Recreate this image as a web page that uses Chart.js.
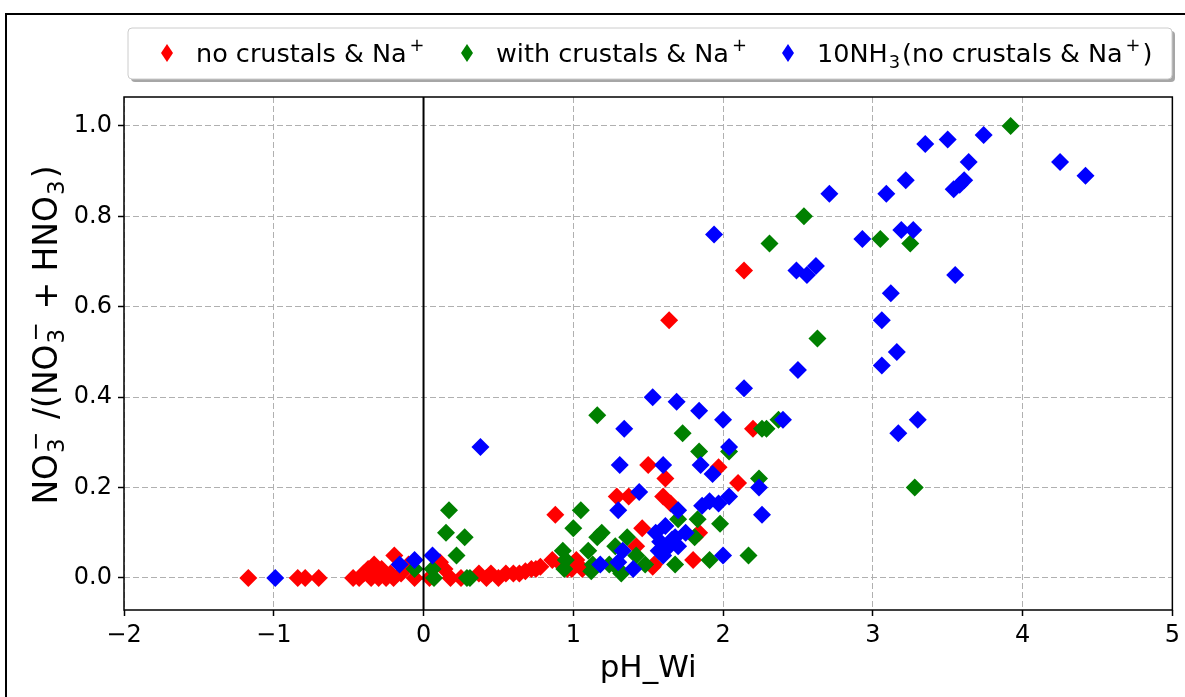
<!DOCTYPE html>
<html>
<head>
<meta charset="utf-8">
<script src="https://cdn.jsdelivr.net/npm/chart.js@4/dist/chart.umd.min.js"></script>
<style>
  html, body { margin: 0; padding: 0; background: #ffffff; }
  #wrap { width: 1185px; height: 697px; }
</style>
</head>
<body>
<div id="wrap"><canvas id="scatterChart" width="1185" height="697"></canvas></div>
<script>
// pH_Wi (x) and NO3-/(NO3- + HNO3) (y)
const redX = [-1.17, -0.84, -0.79, -0.70, -0.47, -0.43, -0.40, -0.37, -0.35, -0.33, -0.30, -0.28, -0.25, -0.22, -0.20,
  -0.33, -0.195, -0.15, -0.10, -0.06, 0.04, 0.11, 0.14, 0.18, 0.25,
  0.37, 0.42, 0.45, 0.50, 0.55, 0.60, 0.64, 0.68, 0.72, 0.75, 0.78,
  0.86, 0.88, 0.92, 0.96, 0.99, 1.02, 1.06,
  1.29, 1.37, 1.42, 1.46, 1.50, 1.53, 1.54, 1.60, 1.615, 1.65, 1.64, 1.80, 1.84, 1.97, 2.10, 2.14, 2.20];
const redY = [0.0, 0.0, 0.0, 0.0, 0.0, 0.0, 0.01, 0.02, 0.0, 0.01, 0.0, 0.02, 0.0, 0.01, 0.0,
  0.03, 0.05, 0.01, 0.03, 0.0, 0.0, 0.035, 0.02, 0.0, 0.0,
  0.01, 0.0, 0.01, 0.0, 0.01, 0.01, 0.01, 0.015, 0.02, 0.02, 0.025,
  0.04, 0.14, 0.03, 0.02, 0.02, 0.04, 0.02,
  0.18, 0.18, 0.07, 0.11, 0.25, 0.025, 0.03, 0.18, 0.22, 0.165, 0.57, 0.04, 0.10, 0.245, 0.21, 0.68, 0.33];

const greenX = [-0.06, 0.06, 0.07, 0.15, 0.17, 0.22, 0.275, 0.29, 0.31,
  0.93, 0.94, 0.95, 1.0, 1.05, 1.10, 1.12, 1.13, 1.16, 1.16, 1.19, 1.24, 1.28, 1.30, 1.32, 1.36, 1.42, 1.48,
  1.68, 1.70, 1.73, 1.81, 1.83, 1.84, 1.91, 1.98, 2.04, 2.17, 2.24, 2.26, 2.29, 2.37,
  2.31, 2.54, 2.63, 3.05, 3.25, 3.28, 3.92];
const greenY = [0.02, 0.02, 0.0, 0.10, 0.15, 0.05, 0.09, 0.0, 0.0,
  0.06, 0.02, 0.04, 0.11, 0.15, 0.06, 0.015, 0.03, 0.09, 0.36, 0.10, 0.03, 0.07, 0.02, 0.01, 0.09, 0.05, 0.03,
  0.03, 0.13, 0.32, 0.09, 0.13, 0.28, 0.04, 0.12, 0.28, 0.05, 0.22, 0.33, 0.33, 0.35,
  0.74, 0.80, 0.53, 0.75, 0.74, 0.20, 1.0];

const blueX = [-0.99, -0.16, -0.06, 0.06, 0.38,
  1.18, 1.30, 1.30, 1.31, 1.33, 1.34, 1.40, 1.44, 1.53, 1.55, 1.57, 1.58, 1.60, 1.60, 1.615, 1.64, 1.66, 1.68,
  1.69, 1.70, 1.70, 1.75, 1.84, 1.85, 1.86, 1.91, 1.93, 1.94, 1.97, 2.0, 2.0, 2.04, 2.04, 2.14, 2.24, 2.26, 2.40,
  2.49, 2.50, 2.56, 2.62, 2.71, 2.93, 3.06, 3.06, 3.09, 3.12, 3.16, 3.17, 3.19, 3.22, 3.27, 3.30,
  3.35, 3.50, 3.54, 3.55, 3.58, 3.61, 3.64, 3.74, 4.25, 4.42];
const blueY = [0.0, 0.03, 0.04, 0.05, 0.29,
  0.03, 0.035, 0.15, 0.25, 0.06, 0.33, 0.02, 0.19, 0.40, 0.10, 0.06, 0.08, 0.25, 0.05, 0.115, 0.07, 0.085, 0.09,
  0.39, 0.07, 0.15, 0.10, 0.37, 0.25, 0.16, 0.17, 0.23, 0.76, 0.165, 0.35, 0.05, 0.18, 0.29, 0.42, 0.20, 0.14, 0.35,
  0.68, 0.46, 0.67, 0.69, 0.85, 0.75, 0.57, 0.47, 0.85, 0.63, 0.50, 0.32, 0.77, 0.88, 0.77, 0.35,
  0.96, 0.97, 0.86, 0.67, 0.87, 0.88, 0.92, 0.98, 0.92, 0.89];

// labels as [text, subscript, superscript] pieces
const seriesLabels = [
  [["no crustals & Na", "", "+"]],
  [["with crustals & Na", "", "+"]],
  [["10NH", "3", ""], ["(no crustals & Na", "", "+"], [")", "", ""]],
];
const yTitle = [["NO", "3", "\u2212"], [" /(NO", "3", "\u2212"], [" + HNO", "3", ""], [")", "", ""]];
const xTitle = "pH_Wi";
const phTicks = [-2, -1, 0, 1, 2, 3, 4, 5];
const ratioTicks = [0.0, 0.2, 0.4, 0.6, 0.8, 1.0];

function toPoints(xs, ys) {
  return xs.map((x, i) => ({ x: x, y: ys[i] }));
}

function plainLabel(parts) {
  return parts.map((p) => p[0] + p[1] + p[2]).join("");
}

const FONT = "'DejaVu Sans', sans-serif";

// text with sub/superscripts stacked like mathtext; returns width
function richText(ctx, parts, x, y, size, draw) {
  let cx = x;
  const s = size * 0.7;
  parts.forEach(([t, sub, sup]) => {
    ctx.font = size + "px " + FONT;
    if (draw) ctx.fillText(t, cx, y);
    cx += ctx.measureText(t).width;
    if (sub || sup) {
      ctx.font = s + "px " + FONT;
      let w = 0;
      if (sub) {
        if (draw) ctx.fillText(sub, cx + 1, y + size * 0.22);
        w = ctx.measureText(sub).width + 1;
      }
      if (sup) {
        if (draw) ctx.fillText(sup, cx + 3, y - size * 0.42);
        w = Math.max(w, ctx.measureText(sup).width + 3);
      }
      cx += w + 2;
    }
  });
  return cx - x;
}

// figure frame, axes box, the x = 0 line, y title and the boxed legend
const framePlugin = {
  id: "framePlugin",
  afterDatasetsDraw(chart) {
    const ctx = chart.ctx;
    const area = chart.chartArea;
    const x0 = chart.scales.x.getPixelForValue(0);
    ctx.save();
    ctx.strokeStyle = "#000000";
    ctx.lineWidth = 2;
    ctx.beginPath();
    ctx.moveTo(x0, area.top);
    ctx.lineTo(x0, area.bottom);
    ctx.stroke();
    ctx.lineWidth = 1.5;
    ctx.strokeRect(area.left, area.top, area.right - area.left, area.bottom - area.top);
    ctx.restore();
  },
  afterDraw(chart) {
    const ctx = chart.ctx;
    ctx.save();
    // outer figure edge
    ctx.strokeStyle = "#000000";
    ctx.lineWidth = 2;
    ctx.beginPath();
    ctx.moveTo(6, 697);
    ctx.lineTo(6, 14);
    ctx.lineTo(1185, 14);
    ctx.stroke();

    // y axis title
    ctx.save();
    ctx.translate(45, 335);
    ctx.rotate(-Math.PI / 2);
    ctx.fillStyle = "#000000";
    ctx.textBaseline = "alphabetic";
    ctx.textAlign = "left";
    const tw = richText(ctx, yTitle, 0, 0, 33, false);
    richText(ctx, yTitle, -tw / 2, 12, 33, true);
    ctx.restore();

    // legend frame with shadow
    const bx = 128, by = 28, bw = 1044, bh = 51;
    ctx.fillStyle = "rgba(0,0,0,0.35)";
    ctx.beginPath();
    ctx.roundRect(bx + 3, by + 3, bw, bh, 4);
    ctx.fill();
    ctx.fillStyle = "#ffffff";
    ctx.strokeStyle = "#cccccc";
    ctx.lineWidth = 1;
    ctx.beginPath();
    ctx.roundRect(bx, by, bw, bh, 4);
    ctx.fill();
    ctx.stroke();

    const itemX = [167, 467, 788];
    const cy = 53;
    ctx.textBaseline = "alphabetic";
    ctx.textAlign = "left";
    chart.data.datasets.forEach((ds, i) => {
      const cx = itemX[i];
      ctx.fillStyle = ds.backgroundColor;
      ctx.beginPath();
      ctx.moveTo(cx, cy - 9);
      ctx.lineTo(cx + 6, cy);
      ctx.lineTo(cx, cy + 9);
      ctx.lineTo(cx - 6, cy);
      ctx.closePath();
      ctx.fill();
      ctx.fillStyle = "#000000";
      richText(ctx, seriesLabels[i], cx + 29, cy + 9, 25.5, true);
    });
    ctx.restore();
  },
};

function initChart() {
  const canvas = document.getElementById("scatterChart");
  if (!canvas) return;
  const ctx = canvas.getContext("2d");

  new Chart(ctx, {
    type: "scatter",
    data: {
      datasets: [
        {
          label: plainLabel(seriesLabels[0]),
          data: toPoints(redX, redY),
          backgroundColor: "#ff0000",
          borderColor: "#ff0000",
          order: 2,
        },
        {
          label: plainLabel(seriesLabels[1]),
          data: toPoints(greenX, greenY),
          backgroundColor: "#008000",
          borderColor: "#008000",
          order: 1,
        },
        {
          label: plainLabel(seriesLabels[2]),
          data: toPoints(blueX, blueY),
          backgroundColor: "#0000ff",
          borderColor: "#0000ff",
          order: 0,
        },
      ],
    },
    options: {
      responsive: false,
      animation: false,
      layout: { padding: { top: 97, right: 10, left: 0, bottom: 0 } },
      elements: {
        point: { pointStyle: "rectRot", radius: 9, borderWidth: 0, hoverRadius: 9 },
      },
      plugins: {
        legend: { display: false },
        tooltip: { enabled: false },
      },
      scales: {
        x: {
          type: "linear",
          min: -2,
          max: 5,
          afterBuildTicks: (scale) => {
            scale.ticks = phTicks.map((v) => ({ value: v }));
          },
          afterFit: (scale) => {
            scale.height = 87;
          },
          ticks: {
            color: "#000000",
            font: { family: FONT, size: 24 },
            padding: 5,
            callback: (v) => (v < 0 ? "\u2212" + Math.abs(v) : String(v)),
          },
          grid: {
            color: "#b0b0b0",
            lineWidth: 1,
            tickLength: 6,
            tickColor: "#000000",
            tickWidth: 1.5,
            tickBorderDash: [],
          },
          border: { display: false, dash: [6, 3] },
          title: {
            display: true,
            text: xTitle,
            color: "#000000",
            font: { family: FONT, size: 31 },
            padding: { top: 4, bottom: 9 },
          },
        },
        y: {
          type: "linear",
          min: -0.0708,
          max: 1.064,
          afterBuildTicks: (scale) => {
            scale.ticks = ratioTicks.map((v) => ({ value: v }));
          },
          afterFit: (scale) => {
            scale.width = 124;
          },
          ticks: {
            color: "#000000",
            font: { family: FONT, size: 24 },
            padding: 6,
            callback: (v) => Number(v).toFixed(1),
          },
          grid: {
            color: "#b0b0b0",
            lineWidth: 1,
            tickLength: 6,
            tickColor: "#000000",
            tickWidth: 1.5,
            tickBorderDash: [],
          },
          border: { display: false, dash: [6, 3] },
          title: { display: false },
        },
      },
    },
    plugins: [framePlugin],
  });
}

document.addEventListener("DOMContentLoaded", function () {
  initChart();
});
</script>
</body>
</html>
